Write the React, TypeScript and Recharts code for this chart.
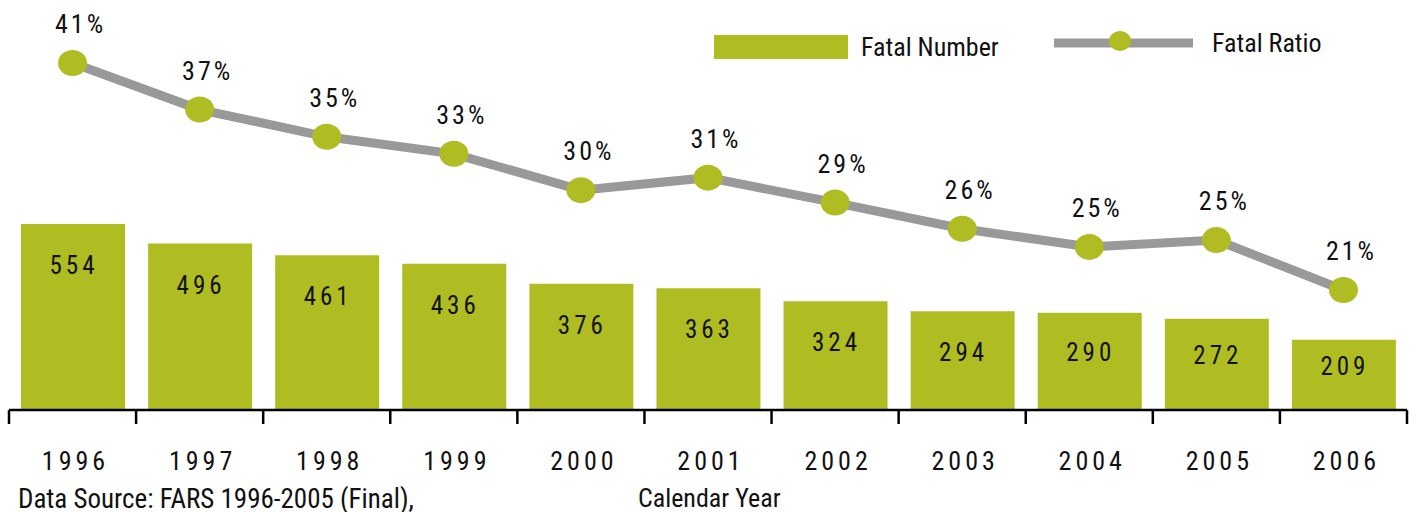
import React from 'react';
import { ComposedChart, Bar, Line, XAxis, YAxis, LabelList } from 'recharts';

const years = ['1996', '1997', '1998', '1999', '2000', '2001', '2002', '2003', '2004', '2005', '2006'];
const fatalNumber = [554, 496, 461, 436, 376, 363, 324, 294, 290, 272, 209];
const fatalRatio = [41.0, 36.9, 34.5, 33.0, 29.8, 30.9, 28.7, 26.4, 24.8, 25.4, 21.0];
const edgeTicks = [0, 1, 2, 3, 4, 5, 6, 7, 8, 9, 10, 11];

const data = years.map((year, i) => ({ year, pos: i + 0.5, number: fatalNumber[i], ratio: fatalRatio[i] }));

const FONT = "'Liberation Sans Narrow', 'Arial Narrow', 'Roboto Condensed', sans-serif";
const GREEN = '#afbd22';
const GRAY = '#999999';

const EmptyTick = () => <g />;

const YearTick = (props: any) => {
  const { x, y, payload } = props;
  return (
    <text x={x + 3} y={y + 57} textAnchor="middle" fontFamily={FONT} fontSize={26} letterSpacing={4} fill="#111">
      {payload.value}
    </text>
  );
};

const BarValueLabel = (props: any) => {
  const { x, y, width, height, value } = props;
  const dy = Math.min(50, height / 2);
  return (
    <text x={x + width / 2 + 1} y={y + dy} textAnchor="middle" fontFamily={FONT} fontSize={25} letterSpacing={4} fill="#111">
      {value}
    </text>
  );
};

const RatioLabel = (props: any) => {
  const { x, y, value } = props;
  return (
    <text x={x + 8} y={y - 30} textAnchor="middle" fontFamily={FONT} fontSize={26} letterSpacing={3} fill="#111">
      {`${Math.round(value)}%`}
    </text>
  );
};

const RatioDot = (props: any) => {
  const { cx, cy, index } = props;
  return <ellipse key={`d${index}`} cx={cx} cy={cy} rx={14.5} ry={13} fill={GREEN} />;
};

export default function App() {
  return (
    <div style={{ position: 'absolute', left: 0, top: 0, width: 1419, height: 512, background: '#fff', overflow: 'hidden' }}>
      <ComposedChart width={1419} height={512} data={data} margin={{ top: 10, right: 12, bottom: 1, left: 9 }}>
        <XAxis
          xAxisId={0}
          type="number"
          dataKey="pos"
          domain={[0, 11]}
          ticks={edgeTicks}
          allowDataOverflow
          tick={<EmptyTick />}
          tickSize={14}
          height={1}
          axisLine={{ stroke: '#000', strokeWidth: 2.5 }}
          tickLine={{ stroke: '#000', strokeWidth: 2.5 }}
        />
        <XAxis xAxisId="cat" dataKey="year" axisLine={false} tickLine={false} tickSize={0} height={100} tick={<YearTick />} interval={0} />
        <YAxis yAxisId="bar" domain={[0, 1192]} hide />
        <YAxis yAxisId="line" domain={[10.43, 45.67]} hide allowDataOverflow />
        <Bar dataKey="number" xAxisId="cat" yAxisId="bar" fill={GREEN} barSize={104} isAnimationActive={false}>
          <LabelList dataKey="number" content={<BarValueLabel />} />
        </Bar>
        <Line
          dataKey="ratio"
          xAxisId="cat"
          yAxisId="line"
          stroke={GRAY}
          strokeWidth={9}
          dot={<RatioDot />}
          activeDot={false}
          isAnimationActive={false}
        >
          <LabelList dataKey="ratio" content={<RatioLabel />} />
        </Line>
      </ComposedChart>

      <div style={{ position: 'absolute', left: 714, top: 32, display: 'flex', alignItems: 'center', fontFamily: FONT, fontSize: 26, color: '#111', whiteSpace: 'nowrap' }}>
        <svg width={134} height={24} style={{ display: 'block' }}>
          <rect x={0} y={0} width={134} height={24} fill={GREEN} />
        </svg>
        <span style={{ marginLeft: 13 }}>Fatal Number</span>
      </div>
      <div style={{ position: 'absolute', left: 1054, top: 28, display: 'flex', alignItems: 'center', fontFamily: FONT, fontSize: 26, color: '#111', whiteSpace: 'nowrap' }}>
        <svg width={139} height={28} style={{ display: 'block' }}>
          <line x1={0} y1={14} x2={139} y2={14} stroke={GRAY} strokeWidth={9} />
          <ellipse cx={66} cy={12} rx={11} ry={10} fill={GREEN} />
        </svg>
        <span style={{ marginLeft: 19 }}>Fatal Ratio</span>
      </div>

      <div style={{ position: 'absolute', left: 18, top: 483, fontFamily: FONT, fontSize: 27, color: '#111', whiteSpace: 'nowrap' }}>
        Data Source: FARS 1996-2005 (Final),
      </div>
      <div style={{ position: 'absolute', left: 638, top: 483, fontFamily: FONT, fontSize: 26, color: '#111', whiteSpace: 'nowrap' }}>
        Calendar Year
      </div>
    </div>
  );
}
